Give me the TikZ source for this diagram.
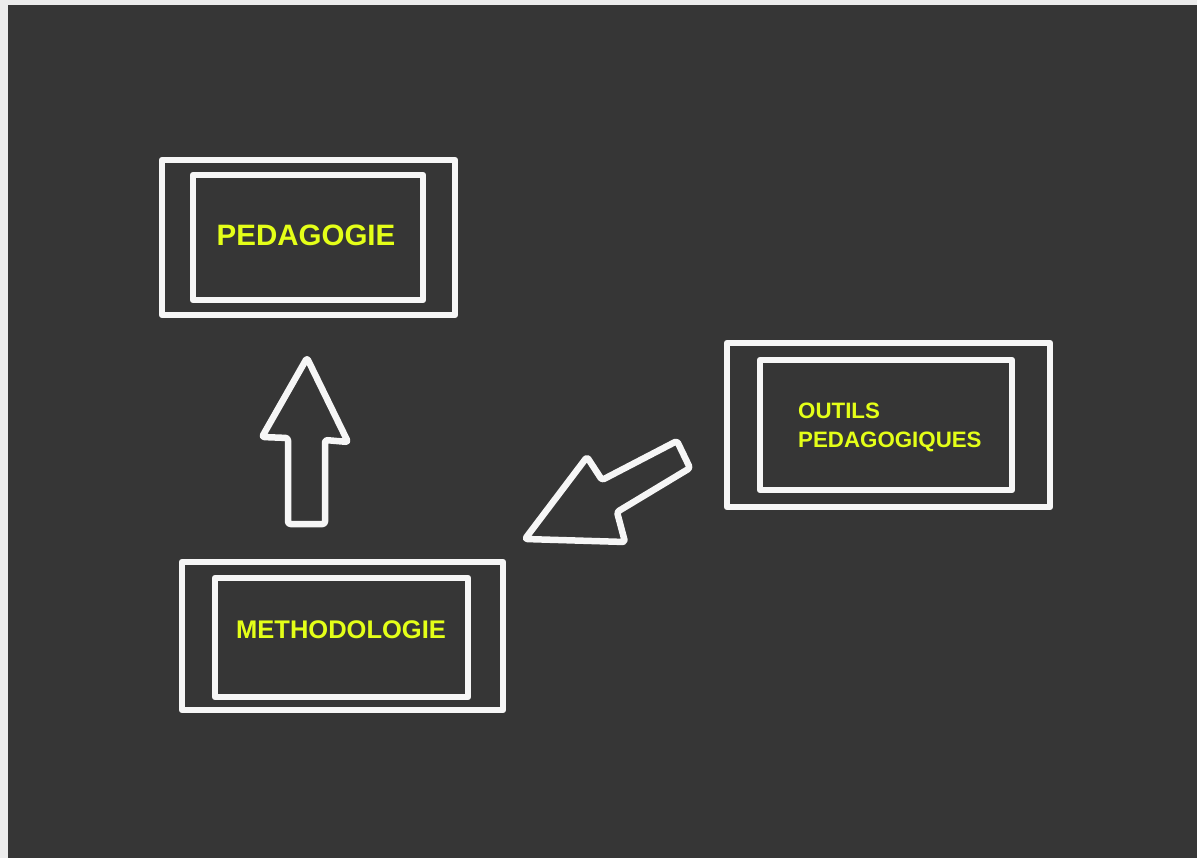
\documentclass[tikz,border=0pt]{standalone}
\usepackage{fontspec}
\setmainfont{Liberation Sans}
\definecolor{board}{RGB}{54,54,54}
\definecolor{paper}{RGB}{236,236,236}
\definecolor{chalk}{RGB}{246,246,246}
\definecolor{hilite}{RGB}{228,255,24}
\tikzset{
  chalkline/.style={draw=chalk, line width=6.5pt, line join=round, line cap=round},
  outerbox/.style={chalkline, rectangle, inner sep=0pt, outer sep=0pt},
  innerbox/.style={chalkline, rectangle, inner sep=0pt, outer sep=0pt},
  lbl/.style={text=hilite, font=\bfseries, inner sep=0pt},
  blockarrow/.style={chalkline, rounded corners=2.5pt}
}
\begin{document}
\begin{tikzpicture}[x=1pt,y=-1pt]
\useasboundingbox (0,0) rectangle (1197,858);
\fill[paper] (0,0) rectangle (1197,858);
\fill[board] (8,5) rectangle (1197,858);
% PEDAGOGIE
\node[outerbox, minimum width=293pt, minimum height=155pt] (pedO) at (308.5,237.5) {};
\node[innerbox, minimum width=230pt, minimum height=125pt] (pedI) at (308,237.5) {};
\node[lbl, font=\fontsize{29.5}{31}\selectfont\bfseries] (pedT) at (306,235) {PEDAGOGIE};
% METHODOLOGIE
\node[outerbox, minimum width=321pt, minimum height=148pt] (metO) at (342.5,636) {};
\node[innerbox, minimum width=253pt, minimum height=119pt] (metI) at (341.5,637.5) {};
\node[lbl, font=\fontsize{25.5}{28}\selectfont\bfseries] (metT) at (341,630) {METHODOLOGIE};
% OUTILS PEDAGOGIQUES
\node[outerbox, minimum width=323pt, minimum height=164pt] (outO) at (888.5,425) {};
\node[innerbox, minimum width=252pt, minimum height=130pt] (outI) at (886,425) {};
\node[lbl, font=\fontsize{22.3}{28.5}\selectfont\bfseries, align=left, anchor=north west] (outT) at (798,403) {OUTILS\\PEDAGOGIQUES};
% up arrow
\draw[blockarrow] (307,358) -- (348,442) -- (325,440) -- (325,524) -- (288,524) -- (288,438) -- (262,437) -- cycle;
% diagonal arrow
\draw[blockarrow] (525,539) -- (587,457) -- (602,480) -- (677,441) -- (690,468) -- (617,512) -- (625,542) -- cycle;
\end{tikzpicture}
\end{document}
